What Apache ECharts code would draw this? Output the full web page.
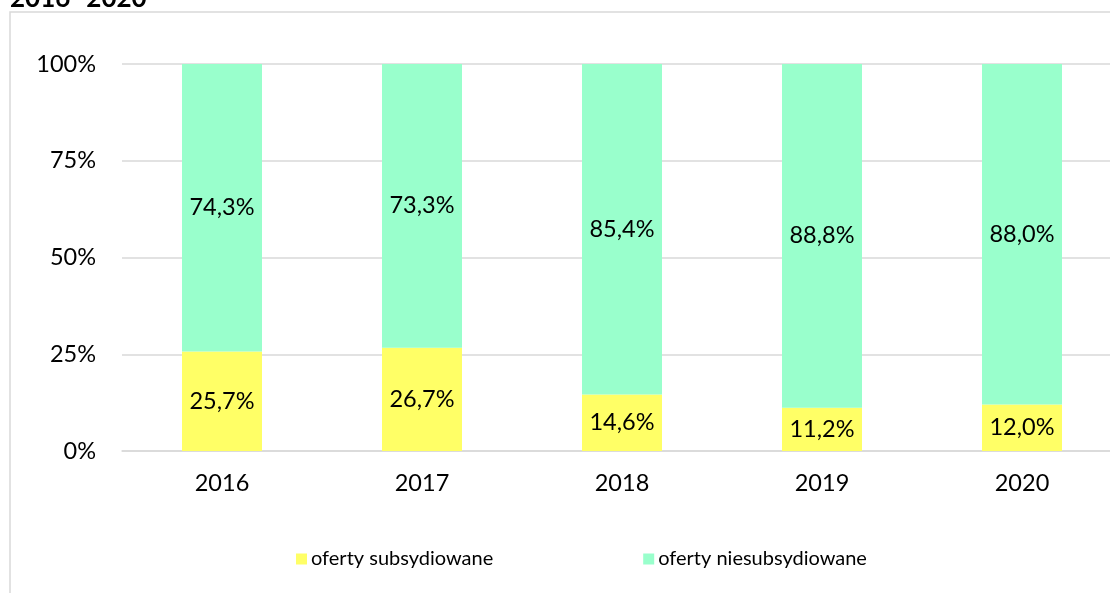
<!DOCTYPE html>
<html>
<head>
<meta charset="utf-8">
<script src="https://cdn.jsdelivr.net/npm/echarts@6/dist/echarts.min.js"></script>
<style>
  html, body { margin: 0; padding: 0; background: #fff; }
  #chart { width: 1110px; height: 593px; }
</style>
</head>
<body>
<div id="chart"></div>
<script>
// Share of job offers by year (percent)
const years = ['2016', '2017', '2018', '2019', '2020'];
const subsidised = [25.7, 26.7, 14.6, 11.2, 12.0];
const unsubsidised = [74.3, 73.3, 85.4, 88.8, 88.0];
const yTicks = [0, 25, 50, 75, 100];

const FONT = 'Lato, "Open Sans", sans-serif';
const NUM_SIZE = 23.5;
const fmt = v => v.toFixed(1).replace('.', ',') + '%';

const chart = echarts.init(document.getElementById('chart'), null, { renderer: 'canvas' });

const barLabel = {
  show: true,
  position: 'inside',
  color: '#000',
  fontSize: NUM_SIZE,
  fontFamily: FONT,
  formatter: p => fmt(p.value)
};

chart.setOption({
  animation: false,
  backgroundColor: '#ffffff',
  textStyle: { fontFamily: FONT },
  graphic: [
    {
      type: 'rect',
      shape: { x: 10, y: 12, width: 1200, height: 700 },
      style: { fill: 'none', stroke: '#d9d9d9', lineWidth: 1.5 },
      silent: true
    },
    {
      type: 'text',
      left: 10,
      top: -14,
      style: { text: '2016- 2020', font: 'bold 26px ' + FONT, fill: '#000' }
    }
  ],
  grid: { left: 122, top: 64, width: 1000, bottom: 142, containLabel: false, outerBoundsMode: 'none' },
  legend: {
    top: 549,
    left: 296,
    padding: 0,
    itemWidth: 11,
    itemHeight: 11,
    itemGap: 150,
    icon: 'rect',
    textStyle: { fontSize: 20, color: '#000', fontFamily: FONT, padding: [0, 0, 0, -1] },
    data: ['oferty subsydiowane', 'oferty niesubsydiowane']
  },
  xAxis: {
    type: 'category',
    data: years,
    axisLine: { show: true, lineStyle: { color: '#d9d9d9', width: 1.5 } },
    axisTick: { show: false },
    axisLabel: { color: '#000', fontSize: NUM_SIZE, margin: 20, fontFamily: FONT }
  },
  yAxis: {
    type: 'value',
    min: 0,
    max: 100,
    interval: 25,
    axisLine: { show: false },
    axisTick: { show: false },
    splitLine: { lineStyle: { color: '#d9d9d9', width: 1.5 } },
    axisLabel: {
      color: '#000',
      fontSize: NUM_SIZE,
      margin: 26,
      fontFamily: FONT,
      formatter: v => (yTicks.includes(v) ? v + '%' : '')
    }
  },
  series: [
    {
      name: 'oferty subsydiowane',
      type: 'bar',
      stack: 'total',
      barWidth: '40%',
      data: subsidised,
      itemStyle: { color: '#ffff66' },
      label: barLabel
    },
    {
      name: 'oferty niesubsydiowane',
      type: 'bar',
      stack: 'total',
      barWidth: '40%',
      data: unsubsidised,
      itemStyle: { color: '#99ffcc' },
      label: barLabel
    }
  ]
});
</script>
</body>
</html>
